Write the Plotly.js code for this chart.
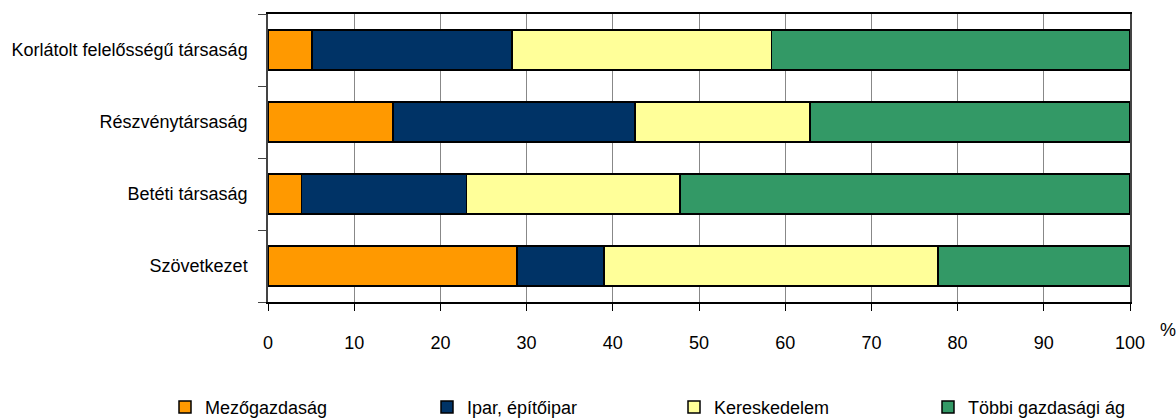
<!DOCTYPE html>
<html>
<head>
<meta charset="utf-8">
<script src="https://cdn.plot.ly/plotly-3.0.1.min.js"></script>
<style>html,body{margin:0;padding:0;background:#fff;}#chart{width:1176px;height:418px;}</style>
</head>
<body>
<div id="chart"></div>
<script>
const categories = ["Szövetkezet", "Betéti társaság", "Részvénytársaság", "Korlátolt felelősségű társaság"];
const seriesNames = ["Mezőgazdaság", "Ipar, építőipar", "Kereskedelem", "Többi gazdasági ág"];
const mezogazdasag = [28.9, 3.9, 14.5, 5.1];
const ipar = [10.1, 19.1, 28.1, 23.2];
const kereskedelem = [38.7, 24.8, 20.3, 30.1];
const tobbi = [22.3, 52.2, 37.1, 41.6];
const xTicks = [0, 10, 20, 30, 40, 50, 60, 70, 80, 90, 100];
const colors = ["#FF9900", "#003366", "#FFFF99", "#339966"];
const seriesValues = [mezogazdasag, ipar, kereskedelem, tobbi];
const legendIds = ["legend", "legend2", "legend3", "legend4"];
const legendX = [165, 427, 674, 928];

const traces = seriesValues.map((vals, i) => ({
  type: "bar",
  orientation: "h",
  name: seriesNames[i],
  y: categories,
  x: vals,
  legend: legendIds[i],
  marker: {color: colors[i], line: {color: "#000", width: 1.5}},
  hoverinfo: "x+y+name"
}));

const layout = {
  width: 1176, height: 418,
  margin: {l: 268, r: 46, t: 14, b: 116},
  paper_bgcolor: "#fff", plot_bgcolor: "#fff",
  font: {family: "Liberation Sans, Arial, sans-serif", size: 18, color: "#000"},
  barmode: "stack",
  bargap: 0.444,
  showlegend: true,
  xaxis: {
    range: [0, 100], tickvals: xTicks, ticktext: xTicks.map(String),
    showgrid: true, gridcolor: "#888", gridwidth: 1,
    showline: true, linecolor: "#000", linewidth: 2, mirror: true,
    ticks: "outside", ticklen: 7, tickcolor: "#000", tickwidth: 1,
    ticklabelstandoff: 16,
    tickfont: {size: 18},
    zeroline: false, fixedrange: true
  },
  yaxis: {
    type: "category", categoryorder: "array", categoryarray: categories,
    showline: true, linecolor: "#444", linewidth: 1.5, mirror: true,
    ticks: "outside", tickson: "boundaries", ticklen: 8, tickcolor: "#444",
    ticklabelstandoff: 15,
    tickfont: {size: 18},
    showgrid: false, fixedrange: true
  },
  annotations: [{
    xref: "paper", yref: "paper", x: 1.033, y: -0.055, xanchor: "left", yanchor: "top",
    text: "%", showarrow: false, font: {size: 18}
  }]
};

legendIds.forEach((id, i) => {
  layout[id] = {
    orientation: "h", xref: "container", yref: "container",
    x: legendX[i] / 1176, y: 0.07, xanchor: "left", yanchor: "top",
    font: {size: 18}, bgcolor: "rgba(0,0,0,0)"
  };
});

Plotly.newPlot("chart", traces, layout, {displayModeBar: false, staticPlot: false});
</script>
</body>
</html>
